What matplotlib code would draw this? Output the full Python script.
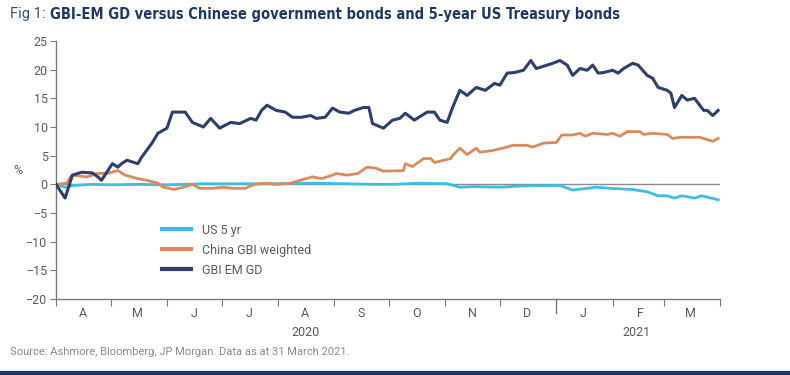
import matplotlib
matplotlib.use("Agg")
import matplotlib.pyplot as plt
from matplotlib import font_manager
import pandas as pd

# fonts: narrow family if present
names = {f.name for f in font_manager.fontManager.ttflist}
FONT = "Liberation Sans Narrow" if "Liberation Sans Narrow" in names else "Roboto"
plt.rcParams["font.family"] = [FONT, "DejaVu Sans"]
condensed = [f.fname for f in font_manager.fontManager.ttflist
             if f.name == "DejaVu Sans" and f.stretch == "condensed" and f.weight in (700, "bold")]

START = pd.Timestamp("2020-04-01")

# days since 1 Apr 2020, values in %
gbi_days = [0, 5, 9, 14, 20, 23, 25, 31, 34, 36, 39, 45, 47, 53, 56, 61, 64, 71, 75, 81,
            85, 90, 96, 101, 107, 110, 113, 116, 121, 126, 130, 135, 140, 143, 148, 152,
            156, 161, 164, 169, 172, 174, 180, 185, 189, 192, 197, 204, 208, 211, 215,
            218, 222, 226, 231, 236, 241, 244, 248, 252, 257, 261, 264, 270, 273, 277,
            281, 284, 288, 292, 295, 298, 301, 306, 309, 312, 317, 320, 325, 328, 331,
            336, 338, 340, 344, 347, 351, 356, 358, 361, 364]
gbi_vals = [0, -2.4, 1.6, 2.1, 2.0, 1.3, 0.7, 3.6, 3.0, 3.6, 4.2, 3.6, 4.7, 7.3, 8.9, 9.8,
            12.6, 12.6, 10.8, 10.0, 11.5, 9.8, 10.8, 10.6, 11.5, 11.2, 12.9, 13.8, 12.9,
            12.6, 11.7, 11.7, 12.0, 11.5, 11.7, 13.3, 12.6, 12.4, 12.9, 13.4, 13.4, 10.6,
            9.8, 11.2, 11.5, 12.4, 11.2, 12.6, 12.6, 11.2, 10.8, 13.4, 16.4, 15.5, 16.9,
            16.4, 17.6, 17.3, 19.4, 19.5, 19.9, 21.6, 20.2, 20.8, 21.1, 21.6, 20.8, 19.0,
            20.2, 19.9, 20.8, 19.4, 19.5, 19.9, 19.4, 20.2, 21.1, 20.8, 19.0, 18.5, 16.9,
            16.4, 15.9, 13.4, 15.5, 14.7, 15.0, 12.9, 12.9, 12.0, 12.9]

china_days = [0, 6, 8, 9, 17, 23, 28, 34, 38, 45, 50, 56, 59, 65, 70, 75, 79, 86, 92, 97,
              104, 109, 116, 121, 129, 134, 141, 146, 152, 154, 160, 166, 171, 176, 180,
              191, 192, 196, 202, 206, 208, 217, 218, 222, 226, 231, 233, 240, 248, 251,
              259, 262, 268, 275, 278, 284, 288, 291, 295, 303, 306, 310, 314, 321, 323,
              328, 336, 339, 343, 350, 354, 361, 364]
china_vals = [0, 0.2, 1.3, 1.6, 1.3, 1.9, 1.9, 2.4, 1.6, 1.0, 0.7, 0.2, -0.5, -0.9, -0.5,
              0.0, -0.7, -0.7, -0.5, -0.7, -0.7, 0.0, 0.2, 0.0, 0.2, 0.7, 1.3, 1.0, 1.6,
              1.9, 1.6, 1.9, 3.0, 2.8, 2.3, 2.4, 3.6, 3.1, 4.5, 4.5, 3.8, 4.5, 5.0, 6.3,
              5.2, 6.3, 5.6, 5.9, 6.5, 6.8, 6.8, 6.5, 7.2, 7.3, 8.6, 8.6, 8.9, 8.4, 8.9,
              8.7, 8.9, 8.4, 9.2, 9.2, 8.7, 8.9, 8.7, 8.0, 8.2, 8.2, 8.2, 7.5, 8.0]

us_days = [0, 5, 10, 20, 30, 45, 60, 80, 100, 120, 140, 160, 175, 185, 200, 215, 222,
           230, 244, 255, 270, 277, 284, 292, 297, 305, 317, 325, 331, 336, 340, 344,
           351, 355, 364]
us_vals = [0, -0.5, -0.2, 0.0, -0.1, 0.0, -0.1, 0.1, 0.1, 0.1, 0.2, 0.1, 0.0, 0.0, 0.2,
           0.1, -0.5, -0.4, -0.5, -0.3, -0.2, -0.2, -1.0, -0.7, -0.5, -0.7, -0.9, -1.3,
           -2.0, -2.0, -2.4, -2.0, -2.4, -2.0, -2.7]

month_labels = ["A", "M", "J", "J", "A", "S", "O", "N", "D", "J", "F", "M"]
year_labels = ["2020", "2021"]


def to_dates(days):
    return START + pd.to_timedelta(days, unit="D")


NAVY = "#2e3f6b"
ORANGE = "#d98b5f"
CYAN = "#3fbde3"
GREY = "#5a5a5a"

fig = plt.figure(figsize=(7.9, 3.75), dpi=100)
ax = fig.add_axes([56 / 790, 1 - 299 / 375, 664 / 790, 258 / 375])

ax.axhline(0, color="#8c8c8c", lw=1, zorder=1)
ax.plot(to_dates(us_days), us_vals, color=CYAN, lw=2, label="US 5 yr", zorder=3)
ax.plot(to_dates(china_days), china_vals, color=ORANGE, lw=2, label="China GBI weighted", zorder=3)
ax.plot(to_dates(gbi_days), gbi_vals, color=NAVY, lw=2.2, label="GBI EM GD", zorder=4)

ax.set_xlim(START, pd.Timestamp("2021-04-01"))
ax.set_ylim(-20, 25)
ax.set_yticks(range(-20, 26, 5))

# month boundary ticks, labels in the middle of each month
bounds = pd.date_range("2020-04-01", "2021-04-01", freq="MS")
ax.set_xticks(bounds)
ax.set_xticklabels([])
ax.tick_params(axis="x", which="major", length=5, color="#7a7a7a", direction="out")
mids = bounds[:-1] + pd.Timedelta(days=15)
ax.set_xticks(mids, minor=True)
ax.set_xticklabels(month_labels, minor=True)
ax.tick_params(axis="x", which="minor", length=0, pad=6, labelsize=9, labelcolor=GREY)
ax.tick_params(axis="y", length=4, color="#7a7a7a", labelsize=9, labelcolor=GREY, pad=2)

# longer tick at the year break
ax.plot([pd.Timestamp("2021-01-01")] * 2, [0, -0.055], transform=ax.get_xaxis_transform(),
        color="#7a7a7a", lw=1, clip_on=False)

xt = ax.get_xaxis_transform()
ax.text(pd.Timestamp("2020-08-16"), -0.128, year_labels[0], transform=xt,
        ha="center", va="center", fontsize=9, color=GREY)
ax.text(pd.Timestamp("2021-02-14"), -0.128, year_labels[1], transform=xt,
        ha="center", va="center", fontsize=9, color=GREY)

for s in ["top", "right"]:
    ax.spines[s].set_visible(False)
for s in ["left", "bottom"]:
    ax.spines[s].set_color("#7a7a7a")
    ax.spines[s].set_linewidth(1)

fig.text(18 / 790, 1 - 170 / 375, "%", ha="center", va="center", fontsize=9, color=GREY)

leg = ax.legend(loc="upper left", bbox_to_anchor=(0.143, 0.335), frameon=False, fontsize=9,
                handlelength=2.3, labelspacing=0.55, handletextpad=0.9)
for t in leg.get_texts():
    t.set_color(GREY)
for h in leg.get_lines():
    h.set_linewidth(3)

# title: light prefix then bold text right after it
tkw = dict(fontsize=10.5)
if condensed:
    tkw = dict(fontproperties=font_manager.FontProperties(fname=condensed[0], size=10.5))
t1 = fig.text(10 / 790, 1 - 14 / 375, "Fig 1:", ha="left", va="center", fontsize=10.5, color="#34507a")
fig.canvas.draw()
bb = t1.get_window_extent()
fig.text((bb.x1 + 4) / 790, 1 - 14 / 375,
         "GBI-EM GD versus Chinese government bonds and 5-year US Treasury bonds",
         ha="left", va="center", color="#1f3864", fontweight="bold", **tkw)
fig.text(10 / 790, 1 - 352 / 375, "Source: Ashmore, Bloomberg, JP Morgan. Data as at 31 March 2021.",
         ha="left", va="center", fontsize=8, color="#8a8a8a")

fig.add_artist(plt.Line2D([0, 1], [1 - 373 / 375] * 2, color="#1f3864", lw=3))

fig.savefig("out.png", dpi=100)
